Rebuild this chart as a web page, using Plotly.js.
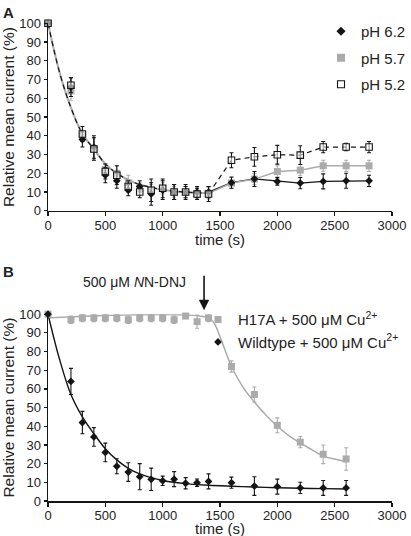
<!DOCTYPE html>
<html>
<head>
<meta charset="utf-8">
<script src="https://cdn.plot.ly/plotly-3.0.1.min.js"></script>
<style>html,body{margin:0;padding:0;background:#fff;}#chart{width:411px;height:536px;}</style>
</head>
<body>
<div id="chart"></div>
<script>
// ---------- Panel A data ----------
const timeA = [0, 200, 300, 400, 500, 600, 700, 800, 900, 1000, 1100, 1200, 1300, 1400, 1600, 1800, 2000, 2200, 2400, 2600, 2800];
const pH62 = [100, 66, 38, 34, 19, 16, 11, 13, 9, 11, 10, 10, 10, 10, 15, 17, 15.7, 14.8, 15.7, 16, 16];
const pH62Err = [0, 5, 4, 6, 4, 4, 3, 3, 6, 5, 4, 3, 3, 3, 3, 4, 2, 3, 4, 4, 3];
const pH57 = [100, 64, 40, 33, 22, 20, 15, 12, 11, 12, 10, 10, 9, 9.3, 14.8, 16.9, 21, 21.7, 24, 24, 24];
const pH57Err = [0, 5, 3, 6, 3, 4, 4, 3, 3, 3, 3, 3, 3, 3, 3, 3, 3, 3, 3, 3, 3];
const pH52 = [100, 67, 41, 33, 21, 19, 13, 10, 11, 12, 10, 10, 9, 9, 27, 28.8, 29.9, 29.7, 34, 34, 34];
const pH52Err = [0, 4, 4, 6, 4, 5, 3, 3, 6, 5, 4, 4, 3, 4, 4, 5, 5, 5, 3, 2, 3];
// fitted decay curve (0-1400 s)
const fitTimeA = [0, 100, 200, 300, 400, 500, 600, 700, 800, 900, 1000, 1100, 1200, 1300, 1400];
const fitA = [100, 74, 55, 41, 33, 25, 20, 16.5, 14, 12.5, 11.2, 10.5, 10, 9.6, 9.4];

// ---------- Panel B data ----------
const timeB = [0, 200, 300, 400, 500, 600, 700, 800, 900, 1000, 1100, 1200, 1300, 1400, 1600, 1800, 2000, 2200, 2400, 2600];
const wildtype = [100, 64, 42, 34.3, 26, 18.6, 15.5, 13, 11.6, 10.8, 11.7, 9.5, 9.8, 10.5, 9.8, 8, 7.7, 7, 7, 7];
const wildtypeErr = [0, 7, 6, 5, 5, 4, 5, 7, 6, 2.5, 4, 3, 2, 4, 3, 5, 4, 3, 4, 4];
const h17a = [100, 97, 98, 98, 98, 98, 97, 98, 98, 98, 97, 99, 96, 98, 72, 57, 40.5, 31.5, 25, 22.5];
const h17aErr = [0, 2, 2, 2, 2, 2, 2, 2, 2, 2, 2, 1, 3.5, 2, 3, 4, 4, 3, 5, 6];
const fitTimeWt = [0, 100, 200, 300, 400, 500, 600, 700, 800, 900, 1000, 1100, 1200, 1400, 1600, 1800, 2000, 2200, 2400, 2600];
const fitWt = [100, 76, 57, 45, 36, 28, 22, 17.5, 14.5, 12.5, 11, 10, 9.3, 8.4, 7.9, 7.5, 7.1, 6.8, 6.6, 6.4];
const fitTimeH = [0, 1400, 1450, 1500, 1600, 1700, 1800, 1900, 2000, 2100, 2200, 2300, 2400, 2500, 2600];
const fitH = [98, 98, 95, 88, 72, 61, 53, 46, 40, 35, 31, 27.5, 24, 22.5, 21];

const seriesNamesA = ['pH 6.2', 'pH 5.7', 'pH 5.2'];
const seriesNamesB = ['H17A + 500 μM Cu<sup>2+</sup>', 'Wildtype + 500 μM Cu<sup>2+</sup>'];
const xTitle = 'time (s)';
const yTitle = 'Relative mean current (%)';

const BLACK = '#151515';
const GRAY = '#ababab';
const FONT = 'Liberation Sans, Arial, sans-serif';

function errBar(arr, color) {
  return {type: 'data', array: arr, visible: true, color: color, thickness: 1.1, width: 2};
}
const k = 13; // index of 1400 s in timeA
const traces = [
  // Panel A - connecting lines after 1400 s
  {x: timeA.slice(k), y: pH62.slice(k), mode: 'lines', line: {color: BLACK, width: 1.3}, xaxis: 'x', yaxis: 'y', showlegend: false, hoverinfo: 'skip'},
  {x: timeA.slice(k), y: pH57.slice(k), mode: 'lines', line: {color: GRAY, width: 1.5}, xaxis: 'x', yaxis: 'y', showlegend: false, hoverinfo: 'skip'},
  {x: timeA.slice(k), y: pH52.slice(k), mode: 'lines', line: {color: BLACK, width: 1.2, dash: '5px,4px'}, xaxis: 'x', yaxis: 'y', showlegend: false, hoverinfo: 'skip'},
  // Panel A - fitted curves
  {x: fitTimeA, y: fitA, mode: 'lines', line: {color: GRAY, width: 2, shape: 'spline'}, xaxis: 'x', yaxis: 'y', showlegend: false, hoverinfo: 'skip'},
  {x: fitTimeA, y: fitA, mode: 'lines', line: {color: BLACK, width: 1.2, dash: '5px,4px', shape: 'spline'}, xaxis: 'x', yaxis: 'y', showlegend: false, hoverinfo: 'skip'},
  // Panel A - markers
  {x: timeA, y: pH57, error_y: errBar(pH57Err, GRAY), mode: 'markers', marker: {symbol: 'square', size: 7, color: GRAY}, xaxis: 'x', yaxis: 'y', showlegend: false, cliponaxis: false},
  {x: timeA, y: pH62, error_y: errBar(pH62Err, BLACK), mode: 'markers', marker: {symbol: 'diamond', size: 6, color: BLACK}, xaxis: 'x', yaxis: 'y', showlegend: false, cliponaxis: false},
  {x: timeA, y: pH52, error_y: errBar(pH52Err, BLACK), mode: 'markers', marker: {symbol: 'square', size: 6.5, color: 'rgba(255,255,255,0.55)', line: {color: BLACK, width: 1.1}}, xaxis: 'x', yaxis: 'y', showlegend: false, cliponaxis: false},
  // Panel A legend entries
  {x: [null], y: [null], name: seriesNamesA[0], mode: 'markers', marker: {symbol: 'diamond', size: 7, color: BLACK}, xaxis: 'x', yaxis: 'y', legend: 'legend', legendgroup: 'a1'},
  {x: [null], y: [null], name: seriesNamesA[1], mode: 'markers', marker: {symbol: 'square', size: 8, color: GRAY}, xaxis: 'x', yaxis: 'y', legend: 'legend', legendgroup: 'a2'},
  {x: [null], y: [null], name: seriesNamesA[2], mode: 'markers', marker: {symbol: 'square', size: 7, color: '#fff', line: {color: BLACK, width: 1.1}}, xaxis: 'x', yaxis: 'y', legend: 'legend', legendgroup: 'a3'},

  // Panel B - fitted curves
  {x: fitTimeH, y: fitH, mode: 'lines', line: {color: GRAY, width: 1.5, shape: 'spline'}, xaxis: 'x2', yaxis: 'y2', showlegend: false, hoverinfo: 'skip'},
  {x: fitTimeWt, y: fitWt, mode: 'lines', line: {color: BLACK, width: 1.4, shape: 'spline'}, xaxis: 'x2', yaxis: 'y2', showlegend: false, hoverinfo: 'skip'},
  // Panel B - markers
  {x: timeB, y: h17a, error_y: errBar(h17aErr, GRAY), mode: 'markers', marker: {symbol: 'square', size: 7, color: GRAY}, xaxis: 'x2', yaxis: 'y2', showlegend: false, cliponaxis: false},
  {x: timeB, y: wildtype, error_y: errBar(wildtypeErr, BLACK), mode: 'markers', marker: {symbol: 'diamond', size: 6, color: BLACK}, xaxis: 'x2', yaxis: 'y2', showlegend: false, cliponaxis: false},
  // Panel B legend entries
  {x: [null], y: [null], name: seriesNamesB[0], mode: 'markers', marker: {symbol: 'square', size: 7, color: GRAY}, xaxis: 'x2', yaxis: 'y2', legend: 'legend2', legendgroup: 'b1'},
  {x: [null], y: [null], name: seriesNamesB[1], mode: 'markers', marker: {symbol: 'diamond', size: 6, color: BLACK}, xaxis: 'x2', yaxis: 'y2', legend: 'legend2', legendgroup: 'b2'}
];

const L = 48, R = 18, H = 536, W = 411, MB = 35.3;
const PH = H - MB; // plot-area height (top margin 0)
const px = v => (v - L) / (W - L - R);
const py = v => (PH - v) / PH;

function xAxis(anchor) {
  return {
    anchor: anchor, domain: [0, 1], range: [0, 3000], dtick: 500, tick0: 0,
    showgrid: false, zeroline: false, showline: true, linecolor: BLACK, linewidth: 1.5,
    ticks: 'outside', ticklen: 4, tickwidth: 1.2, tickcolor: BLACK, ticklabelstandoff: -2,
    tickfont: {family: FONT, size: 13, color: '#222'},
    automargin: false
  };
}
function yAxis(anchor, domain) {
  return {
    anchor: anchor, domain: domain, range: [0, 100], dtick: 10, tick0: 0,
    showgrid: false, zeroline: false, showline: true, linecolor: BLACK, linewidth: 1.5,
    ticks: 'outside', ticklen: 3, tickwidth: 1.2, tickcolor: BLACK,
    tickfont: {family: FONT, size: 13, color: '#222'},
    title: {text: yTitle, font: {family: FONT, size: 15.5, color: '#222'}},
    automargin: false
  };
}

const layout = {
  width: W, height: H,
  margin: {l: L, r: R, t: 0, b: MB},
  paper_bgcolor: '#fff', plot_bgcolor: '#fff',
  font: {family: FONT, color: '#222'},
  xaxis: xAxis('y'),
  yaxis: yAxis('x', [py(210.7), py(23.3)]),
  xaxis2: xAxis('y2'),
  yaxis2: yAxis('x2', [0, py(314)]),
  legend: {x: px(322), y: py(15), xanchor: 'left', yanchor: 'top', font: {family: FONT, size: 15, color: '#222'},
    bgcolor: 'rgba(0,0,0,0)', tracegroupgap: 4, itemclick: false},
  legend2: {x: px(198), y: py(303), xanchor: 'left', yanchor: 'top', font: {family: FONT, size: 15, color: '#222'},
    bgcolor: 'rgba(0,0,0,0)', tracegroupgap: 0, itemclick: false},
  showlegend: true,
  annotations: [
    {text: '<b>A</b>', xref: 'paper', yref: 'paper', x: px(1), y: py(2), xanchor: 'left', yanchor: 'top', showarrow: false, font: {family: FONT, size: 15, color: '#222'}},
    {text: '<b>B</b>', xref: 'paper', yref: 'paper', x: px(1), y: py(261), xanchor: 'left', yanchor: 'top', showarrow: false, font: {family: FONT, size: 15, color: '#222'}},
    // x-axis titles of both panels
    {text: xTitle, xref: 'paper', yref: 'paper', x: 0.5, y: py(239), xanchor: 'center', yanchor: 'middle', showarrow: false, font: {family: FONT, size: 15, color: '#222'}},
    {text: xTitle, xref: 'paper', yref: 'paper', x: 0.5, y: py(528), xanchor: 'center', yanchor: 'middle', showarrow: false, font: {family: FONT, size: 15, color: '#222'}},
    {text: '500 μM <i>N</i>N-DNJ', xref: 'paper', yref: 'paper', x: px(135), y: py(282), xanchor: 'center', yanchor: 'middle', showarrow: false, font: {family: FONT, size: 14, color: '#222'}},
    {text: '', xref: 'paper', yref: 'paper', x: px(204.5), y: py(310), ax: 0, ay: -36, axref: 'pixel', ayref: 'pixel', showarrow: true, arrowhead: 2, arrowsize: 1.3, arrowwidth: 1.6, arrowcolor: BLACK, standoff: 0}
  ]
};

Plotly.newPlot('chart', traces, layout, {displayModeBar: false, staticPlot: true});
</script>
</body>
</html>
